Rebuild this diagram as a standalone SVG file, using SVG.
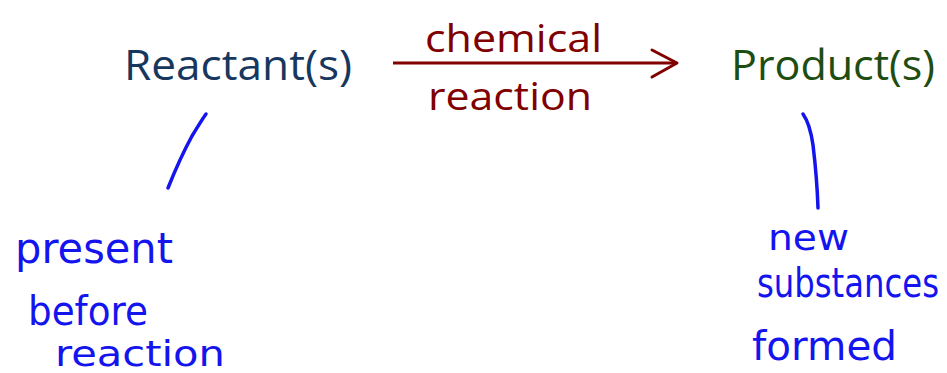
<svg xmlns="http://www.w3.org/2000/svg" width="947" height="373" viewBox="0 0 947 373">
  <defs>
    <style>
      .title { font-family: "Open Sans", "Liberation Sans", sans-serif; font-size: 42px; }
      .rxn { font-family: "Open Sans", "Liberation Sans", sans-serif; font-size: 38px; fill: #800000; }
      .note { font-family: "DejaVu Sans", "Liberation Sans", sans-serif; fill: #1414EE; }
      .ink { fill: none; stroke: #1414EE; stroke-width: 3.5; stroke-linecap: round; }
    </style>
  </defs>
  <rect width="947" height="373" fill="#ffffff"/>

  <g id="reactants">
    <text class="title" x="124" y="80" fill="#17375E" textLength="228" lengthAdjust="spacingAndGlyphs">Reactant(s)</text>
  </g>

  <g id="products">
    <text class="title" x="731" y="80" fill="#1E4D12" textLength="204" lengthAdjust="spacingAndGlyphs">Product(s)</text>
  </g>

  <g id="reaction-arrow">
    <line x1="393" y1="63" x2="677" y2="63" stroke="#800000" stroke-width="3"/>
    <polyline points="652,50 677,63 652,77" fill="none" stroke="#800000" stroke-width="3" stroke-linejoin="round" stroke-linecap="round"/>
    <text class="rxn" x="425" y="52" textLength="177" lengthAdjust="spacingAndGlyphs">chemical</text>
    <text class="rxn" x="428" y="110" textLength="164" lengthAdjust="spacingAndGlyphs">reaction</text>
  </g>

  <g id="connectors">
    <path class="ink" d="M206,114 Q203,118 192,136 Q180,158 168,188"/>
    <path class="ink" d="M803,114 Q810,124 813,145 Q817,178 818,208"/>
  </g>

  <g id="reactant-note">
    <text class="note" x="15" y="263" font-size="42" textLength="158" lengthAdjust="spacingAndGlyphs">present</text>
    <text class="note" x="28" y="325" font-size="40" textLength="120" lengthAdjust="spacingAndGlyphs">before</text>
    <text class="note" x="55" y="366" font-size="36" textLength="170" lengthAdjust="spacingAndGlyphs">reaction</text>
  </g>

  <g id="product-note">
    <text class="note" x="768" y="250" font-size="36" textLength="81" lengthAdjust="spacingAndGlyphs">new</text>
    <text class="note" transform="translate(757,297) scale(1,1.25)" x="0" y="0" font-size="32" textLength="182" lengthAdjust="spacingAndGlyphs">substances</text>
    <text class="note" x="752" y="360" font-size="40" textLength="145" lengthAdjust="spacingAndGlyphs">formed</text>
  </g>
</svg>
